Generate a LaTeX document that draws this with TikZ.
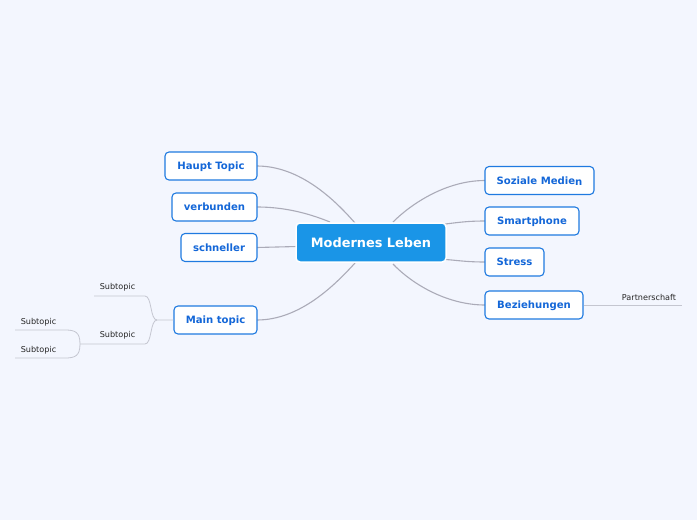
\documentclass[tikz,border=0pt]{standalone}
\usepackage{fontspec}
\setmainfont{DejaVu Sans}
\begin{document}
\begin{tikzpicture}[x=1pt,y=-1pt,
  bg/.style={fill=bgc,draw=none},
  central/.style={fill=cblue,draw=white,line width=1.5pt,rounded corners=4pt,text=white,font=\bfseries\fontsize{12.9}{14}\selectfont,inner sep=0pt},
  topic/.style={fill=white,draw=tblue,line width=1.1pt,rounded corners=4pt,text=ttext,font=\bfseries\fontsize{10.1}{12}\selectfont,inner sep=0pt,minimum height=28pt,text depth=0pt},
  sub/.style={text=black!85,font=\fontsize{8.1}{9}\selectfont,inner sep=0pt},
  conn/.style={draw=lgrey,line width=1.1pt},
  subconn/.style={draw=sgrey,line width=0.8pt}
]
\definecolor{bgc}{HTML}{F3F6FE}
\definecolor{cblue}{HTML}{1A95E7}
\definecolor{tblue}{HTML}{1F7AE0}
\definecolor{ttext}{HTML}{1467D8}
\definecolor{lgrey}{HTML}{ABABB8}
\definecolor{sgrey}{HTML}{C4C6D0}
\useasboundingbox[bg] (0,0) rectangle (697,520);

% coordinates on central box
\coordinate (cHT) at (355,223);
\coordinate (cVB) at (330,222);
\coordinate (cSN) at (297,246.5);
\coordinate (cMT) at (355,263);
\coordinate (cSM) at (393,222);
\coordinate (cSP) at (445,224);
\coordinate (cST) at (445,259.5);
\coordinate (cBZ) at (393,264);

% connectors
\draw[conn] (257,166) coordinate (eHT) .. controls (300,166) and (335,200) .. (cHT);
\draw[conn] (257,207) coordinate (eVB) .. controls (290,207) and (315,216) .. (cVB);
\draw[conn] (257,247.5) coordinate (eSN) -- (cSN);
\draw[conn] (257,320) coordinate (eMT) .. controls (300,320) and (335,285) .. (cMT);
\draw[conn] (485,180.5) coordinate (eSM) .. controls (445,180.5) and (410,205) .. (cSM);
\draw[conn] (485,221) coordinate (eSP) .. controls (465,221) and (455,223) .. (cSP);
\draw[conn] (485,262) coordinate (eST) .. controls (465,262) and (455,260) .. (cST);
\draw[conn] (485,305) coordinate (eBZ) .. controls (445,305) and (410,282) .. (cBZ);

% central
\node[central,minimum width=150pt,minimum height=39pt] (c) at (371,242.5) {Modernes Leben};

% left topics
\node[topic,minimum width=92pt] (ht) at (211,166) {Haupt Topic};
\node[topic,minimum width=85pt] (vb) at (214.5,207) {verbunden};
\node[topic,minimum width=76pt] (sn) at (219,247.5) {schneller};
\node[topic,minimum width=83pt] (mt) at (215.5,320) {Main topic};

% right topics
\node[topic,minimum width=109pt] (sm) at (539.5,180.5) {Soziale Medie\raisebox{-1.5pt}{n}};
\node[topic,minimum width=94pt] (sp) at (532,221) {Smartphone};
\node[topic,minimum width=59pt] (st) at (514.5,262) {Stress};
\node[topic,minimum width=98pt] (bz) at (534,305) {Beziehungen};

% Partnerschaft
\coordinate (pe) at (682,305);
\draw[subconn] (bz.east) -- (pe);
\node[sub] (ps) at (649,297) {Partnerschaft};

% subtopics of Main topic
\coordinate (j1) at (157,320);
\coordinate (s1e) at (94,296);
\coordinate (s2e) at (80,344);
\draw[subconn] (mt.west) -- (j1) .. controls (150,320) and (152,296) .. (145,296) -- (s1e);
\draw[subconn] (j1) .. controls (150,320) and (152,344) .. (145,344) -- (s2e);
\node[sub] (s1) at (117.5,287) {Subtopic};
\node[sub] (s2) at (117.5,335) {Subtopic};

\coordinate (s3e) at (15,330);
\coordinate (s4e) at (15,358);
\draw[subconn] (s2e) .. controls (80,332) and (75,330) .. (65,330) -- (s3e);
\draw[subconn] (s2e) .. controls (80,356) and (75,358) .. (65,358) -- (s4e);
\node[sub] (s3) at (38.5,322) {Subtopic};
\node[sub] (s4) at (38.5,350) {Subtopic};
\end{tikzpicture}
\end{document}
